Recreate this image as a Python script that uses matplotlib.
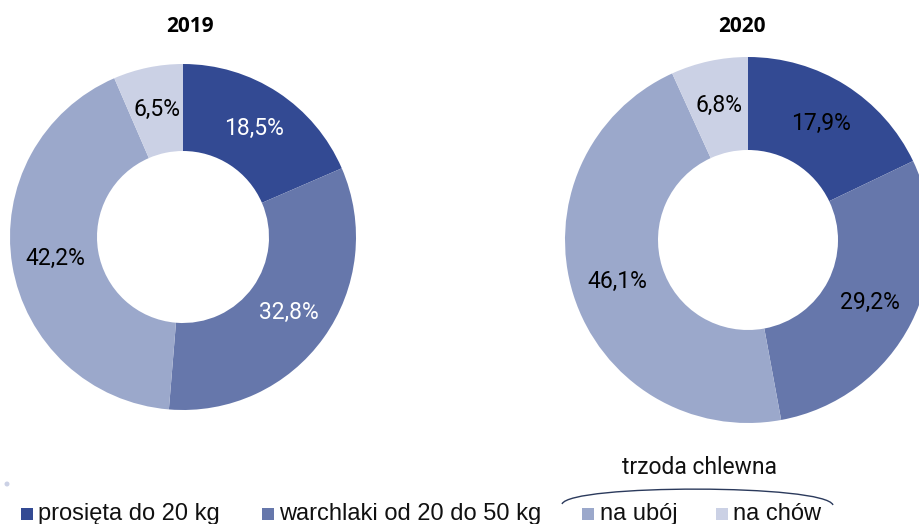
import matplotlib
matplotlib.use('Agg')
import matplotlib.pyplot as plt
import numpy as np
from matplotlib.patches import Rectangle, PathPatch, Circle
from matplotlib.path import Path

# data
categories = ['prosięta do 20 kg', 'warchlaki od 20 do 50 kg', 'na ubój', 'na chów']
years = ['2019', '2020']
shares_2019 = [18.5, 32.8, 42.2, 6.5]
shares_2020 = [17.9, 29.2, 46.1, 6.8]
label_colors_2019 = ['white', 'white', 'black', 'black']
label_colors_2020 = ['black', 'black', 'black', 'black']
colors = ['#334a93', '#6677ab', '#9ba8cb', '#cbd1e5']
group_label = 'trzoda chlewna'

W, H = 919, 524
fig = plt.figure(figsize=(W / 100, H / 100), dpi=100)
ax = fig.add_axes([0, 0, 1, 1])


def donut(values, lab_colors, cx, cy, r, hole, title, tx):
    wedges, _ = ax.pie(values, colors=colors, startangle=90, counterclock=False,
                       radius=r, center=(cx, H - cy),
                       wedgeprops=dict(width=r - hole, edgecolor='none'))
    for w, v, c in zip(wedges, values, lab_colors):
        ang = np.deg2rad((w.theta1 + w.theta2) / 2)
        x = cx + 0.75 * r * np.cos(ang)
        y = H - cy + 0.75 * r * np.sin(ang)
        ax.text(x, y, f'{v:.1f}%'.replace('.', ','), ha='center', va='center',
                fontsize=16.5, color=c, family='Roboto')
    ax.text(tx, H - 27, title, ha='center', va='center', fontsize=15,
            fontweight='bold', family='Open Sans')


donut(shares_2019, label_colors_2019, 183, 237, 173, 86, years[0], 190)
donut(shares_2020, label_colors_2020, 748, 240, 183, 90, years[1], 742)

# legend (the reference cuts descenders at the bottom edge)
sq_x = [21, 262, 582, 716]
txt_x = [38, 279, 600, 733]
for c, lab, sx, tx in zip(colors, categories, sq_x, txt_x):
    ax.add_patch(Rectangle((sx, H - 520), 12, 12, color=c, lw=0))
    ax.text(tx, H - 520, lab, ha='left', va='baseline', fontsize=17,
            family='Liberation Sans', color='#111111')

# brace over the last two items
verts = [(562, H - 504), (570, H - 484), (825, H - 484), (833, H - 505)]
brace = Path(verts, [Path.MOVETO, Path.CURVE4, Path.CURVE4, Path.CURVE4])
ax.add_patch(PathPatch(brace, facecolor='none', edgecolor='#2b3a5c', lw=1.0))
ax.text(700, H - 468, group_label, ha='center', va='center', fontsize=16.5,
        family='Roboto', color='#111111')

ax.add_patch(Circle((7, H - 484), 2.5, color='#cbd1e5', lw=0))

ax.set_xlim(0, W)
ax.set_ylim(0, H)
ax.set_aspect('auto')
ax.axis('off')

fig.savefig('out.png', dpi=100)
